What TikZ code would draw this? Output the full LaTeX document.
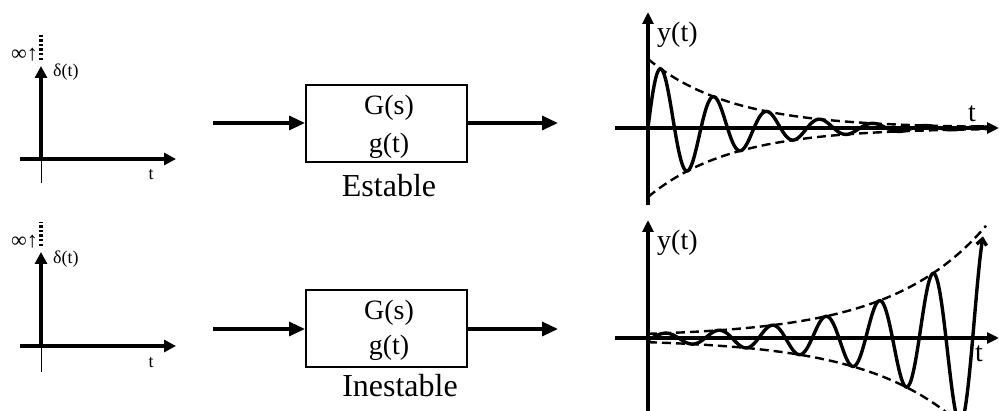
\documentclass[tikz,border=0pt]{standalone}
\usepackage{fontspec}
\setmainfont{Liberation Serif}
\usetikzlibrary{arrows.meta}
\begin{document}
\begin{tikzpicture}[x=1pt,y=-1pt,
  axis/.style={line width=3.2pt},
  thinaxis/.style={line width=1pt},
  dotaxis/.style={line width=3.2pt,dash pattern=on 2.4pt off 2.2pt},
  bigtip/.style={-{Triangle[length=16pt,width=14pt]}},
  axtip/.style={-{Triangle[length=12pt,width=12pt]}},
  rtip/.style={-{Triangle[length=12pt,width=11pt]}},
  block/.style={draw,line width=2pt,minimum width=161pt,minimum height=77pt,inner sep=0pt},
  env/.style={line width=2.4pt,dash pattern=on 9pt off 5pt},
  sig/.style={line width=3.4pt,line join=round},
  small/.style={font=\fontsize{18}{18}\selectfont,anchor=base,inner sep=0pt},
  inftxt/.style={font=\fontsize{22}{22}\selectfont,inner sep=0pt},
  blocktxt/.style={font=\fontsize{28}{28}\selectfont,anchor=base,inner sep=0pt},
  lbl/.style={font=\fontsize{32}{32}\selectfont,anchor=base,inner sep=0pt},
  ytxt/.style={font=\fontsize{28}{28}\selectfont,anchor=base,inner sep=0pt},
]
\useasboundingbox (0,0) rectangle (999,411);

% ---------- top-left impulse ----------
\coordinate (a1l) at (20,159);
\coordinate (a1o) at (41,159);
\coordinate (a1r) at (176,159);
\coordinate (a1u) at (41,66);
\coordinate (a1d) at (41,183);
\coordinate (a1dt) at (41,60);
\coordinate (a1dtt) at (41,33);
\draw[axis,axtip] (a1l) -- (a1r);
\draw[axis,axtip] (a1o) -- (a1u);
\draw[thinaxis] (a1o) -- (a1d);
\draw[dotaxis] (a1dt) -- (a1dtt);
\node[inftxt,anchor=base east] (inf1) at (38,61) {∞↑};
\node[small,anchor=base west] (del1) at (53,77) {δ(t)};
\node[small] (t1) at (151,180) {t};

% ---------- bottom-left impulse ----------
\coordinate (a2l) at (20,346);
\coordinate (a2o) at (41,346);
\coordinate (a2r) at (176,346);
\coordinate (a2u) at (41,252);
\coordinate (a2d) at (41,372);
\coordinate (a2dt) at (41,246);
\coordinate (a2dtt) at (41,222);
\draw[axis,axtip] (a2l) -- (a2r);
\draw[axis,axtip] (a2o) -- (a2u);
\draw[thinaxis] (a2o) -- (a2d);
\draw[dotaxis] (a2dt) -- (a2dtt);
\node[inftxt,anchor=base east] (inf2) at (38,248) {∞↑};
\node[small,anchor=base west] (del2) at (53,264) {δ(t)};
\node[small] (t2) at (151,368) {t};

% ---------- blocks ----------
\node[block] (b1) at (386.5,123.5) {};
\coordinate (in1) at (213,123);
\coordinate (out1) at (558,123);
\draw[axis,bigtip] (in1) -- (b1.west |- in1);
\draw[axis,bigtip] (b1.east |- out1) -- (out1);
\node[blocktxt] (G1) at (389,115) {G(s)};
\node[blocktxt] (g1) at (389,153) {g(t)};
\node[lbl] (est) at (389,197) {Estable};

\node[block] (b2) at (386.5,328.5) {};
\coordinate (in2) at (213,329);
\coordinate (out2) at (558,329);
\draw[axis,bigtip] (in2) -- (b2.west |- in2);
\draw[axis,bigtip] (b2.east |- out2) -- (out2);
\node[blocktxt] (G2) at (389,320) {G(s)};
\node[blocktxt] (g2) at (389,355) {g(t)};
\node[lbl] (inest) at (400,397) {Inestable};

% ---------- top-right: stable response ----------
\coordinate (r1l) at (615,128);
\coordinate (r1r) at (999,128);
\coordinate (r1b) at (648,205);
\coordinate (r1u) at (648,12);
\draw[axis,rtip] (r1l) -- (r1r);
\draw[axis,rtip] (r1b) -- (r1u);
\draw[env] plot[domain=0:345,samples=120] ({648+\x},{128-69*exp(-0.012*\x)});
\draw[env] plot[domain=0:345,samples=120] ({648+\x},{128+69*exp(-0.012*\x)});
\draw[sig] plot[domain=0:345,samples=400] ({648+\x},{128-69*exp(-0.012*\x)*sin((\x/53)*360)});
\node[ytxt,anchor=base west] (y1) at (657,42) {y(t)};
\node[ytxt] (tt1) at (972,122) {t};

% ---------- bottom-right: unstable response ----------
\coordinate (r2l) at (615,338);
\coordinate (r2r) at (999,338);
\coordinate (r2b) at (648,411);
\coordinate (r2u) at (648,220);
\draw[axis,rtip] (r2l) -- (r2r);
\draw[axis,rtip] (r2b) -- (r2u);
\begin{scope}
\clip (600,200) rectangle (999,411);
\draw[env] plot[domain=0:338,samples=150] ({648+\x},{338-(3.2*exp(0.0105*\x)+1)});
\draw[env] plot[domain=0:330,samples=150] ({648+\x},{338+(3.2*exp(0.0105*\x)+1)});
\draw[sig,-{Straight Barb[length=6pt,width=10pt]}] plot[domain=0:335,samples=400] ({648+\x},{338-(3.2*exp(0.0105*\x)+1)*sin((\x/53.5)*360-25)});
\end{scope}
\node[ytxt,anchor=base west] (y2) at (657,250) {y(t)};
\node[ytxt] (tt2) at (979,362) {t};
\end{tikzpicture}
\end{document}
